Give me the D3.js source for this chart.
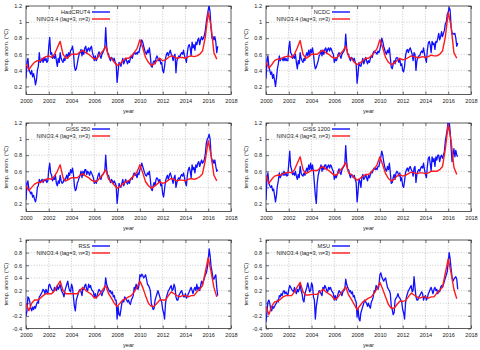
<!DOCTYPE html>
<html><head><meta charset="utf-8">
<script src="https://cdn.jsdelivr.net/npm/d3@7"></script>
<style>body{margin:0;background:#fff}svg{display:block}text{font-family:"Liberation Sans",Arial,sans-serif}</style>
</head><body><svg id="c" width="480" height="350"></svg>
<script>
// ---- data ----
const startYear = 2000;
const blueStepMonths = 1;   // blue series: monthly
const redStepMonths = 3;    // red series sampled every 3 months
const panelNames = ["HadCRUT4", "NCDC", "GISS 250", "GISS 1200", "RSS", "MSU"];
const redName = "NINO3.4 (lag=3, n=3)";
const xTicks = [2000, 2002, 2004, 2006, 2008, 2010, 2012, 2014, 2016, 2018];
const yTicksSurface = [0.2, 0.4, 0.6, 0.8, 1.0, 1.2];
const yTicksSat = [-0.4, -0.2, 0, 0.2, 0.4, 0.6, 0.8, 1.0];
const yDomainSurface = [0.1, 1.2];
const yDomainSat = [-0.4, 1.0];

const hadcrut4 = [
0.30,0.50,0.55,0.42,0.38,0.35,0.40,0.32,0.36,0.30,0.22,0.28,
0.40,0.45,0.62,0.50,0.52,0.55,0.50,0.56,0.52,0.55,0.50,0.52,
0.70,0.81,0.60,0.62,0.55,0.58,0.55,0.60,0.52,0.45,0.55,0.50,
0.62,0.55,0.52,0.50,0.55,0.52,0.58,0.60,0.55,0.62,0.58,0.65,
0.66,0.70,0.62,0.45,0.40,0.42,0.48,0.55,0.60,0.62,0.66,0.58,
0.65,0.60,0.68,0.70,0.62,0.66,0.68,0.64,0.68,0.70,0.62,0.58,
0.52,0.58,0.52,0.55,0.60,0.63,0.58,0.55,0.60,0.62,0.65,0.68,
0.93,0.70,0.62,0.60,0.55,0.52,0.56,0.55,0.52,0.55,0.50,0.48,
0.25,0.38,0.50,0.48,0.45,0.50,0.55,0.48,0.52,0.55,0.52,0.48,
0.52,0.50,0.55,0.58,0.55,0.60,0.62,0.60,0.62,0.60,0.63,0.62,
0.68,0.72,0.78,0.75,0.70,0.65,0.62,0.60,0.65,0.62,0.68,0.58,
0.45,0.44,0.50,0.52,0.48,0.55,0.58,0.55,0.52,0.55,0.48,0.50,
0.40,0.37,0.45,0.55,0.60,0.62,0.58,0.62,0.65,0.60,0.58,0.52,
0.58,0.60,0.37,0.52,0.55,0.58,0.56,0.60,0.62,0.60,0.65,0.58,
0.55,0.50,0.62,0.70,0.72,0.68,0.58,0.75,0.68,0.72,0.65,0.75,
0.72,0.78,0.80,0.72,0.78,0.82,0.78,0.80,0.84,0.90,1.00,1.08,
1.15,1.20,1.12,0.92,0.80,0.82,0.78,0.82,0.75,0.62,0.70];
const hadcrut4Nino = [
0.48,0.41,0.46,0.50, 0.52,0.52,0.55,0.57, 0.58,0.56,0.60,0.68, 0.76,0.60,0.55,0.57,
0.60,0.60,0.60,0.63, 0.65,0.62,0.60,0.57, 0.54,0.55,0.60,0.64, 0.70,0.57,0.55,0.50,
0.46,0.48,0.52,0.55, 0.55,0.58,0.62,0.67, 0.78,0.68,0.56,0.50, 0.46,0.48,0.52,0.55,
0.52,0.53,0.56,0.58, 0.57,0.55,0.56,0.56, 0.55,0.57,0.58,0.57, 0.58,0.60,0.64,0.82,
1.12,0.95,0.62,0.54];

const ncdc = [
0.30,0.52,0.58,0.45,0.40,0.35,0.38,0.30,0.35,0.28,0.20,0.30,
0.42,0.48,0.58,0.52,0.55,0.55,0.52,0.56,0.52,0.55,0.52,0.52,
0.68,0.76,0.62,0.60,0.55,0.58,0.55,0.60,0.50,0.42,0.52,0.48,
0.62,0.55,0.52,0.50,0.55,0.52,0.58,0.62,0.58,0.65,0.58,0.66,
0.62,0.68,0.60,0.48,0.42,0.44,0.48,0.52,0.58,0.60,0.65,0.58,
0.65,0.60,0.66,0.68,0.62,0.66,0.68,0.64,0.68,0.66,0.62,0.60,
0.50,0.55,0.52,0.55,0.60,0.62,0.58,0.55,0.60,0.62,0.64,0.66,
0.85,0.68,0.60,0.60,0.55,0.52,0.56,0.55,0.52,0.55,0.50,0.48,
0.24,0.36,0.50,0.46,0.45,0.50,0.55,0.48,0.52,0.56,0.52,0.48,
0.52,0.50,0.55,0.58,0.56,0.62,0.64,0.62,0.62,0.60,0.64,0.62,
0.66,0.72,0.80,0.76,0.70,0.66,0.62,0.60,0.65,0.62,0.68,0.56,
0.44,0.42,0.48,0.52,0.48,0.55,0.56,0.55,0.50,0.54,0.46,0.48,
0.40,0.38,0.45,0.58,0.64,0.66,0.62,0.66,0.68,0.64,0.60,0.52,
0.62,0.60,0.40,0.52,0.56,0.58,0.58,0.62,0.64,0.62,0.68,0.60,
0.55,0.50,0.65,0.74,0.76,0.72,0.62,0.76,0.72,0.74,0.66,0.76,
0.75,0.80,0.86,0.78,0.82,0.88,0.82,0.86,0.90,0.98,1.00,1.10,
1.12,1.18,1.15,0.95,0.85,0.86,0.85,0.86,0.80,0.70,0.74];
const ncdcNino = [
0.50,0.43,0.47,0.52, 0.54,0.54,0.56,0.57, 0.58,0.56,0.60,0.68, 0.77,0.60,0.55,0.57,
0.60,0.60,0.60,0.63, 0.65,0.62,0.60,0.57, 0.55,0.56,0.60,0.64, 0.70,0.57,0.55,0.50,
0.47,0.49,0.52,0.55, 0.55,0.58,0.62,0.67, 0.78,0.68,0.56,0.50, 0.47,0.49,0.52,0.55,
0.53,0.54,0.56,0.58, 0.57,0.56,0.56,0.57, 0.56,0.57,0.59,0.58, 0.58,0.60,0.64,0.82,
1.12,0.95,0.62,0.55];

const giss250 = [
0.24,0.45,0.48,0.38,0.35,0.32,0.34,0.28,0.30,0.25,0.22,0.28,
0.40,0.42,0.50,0.46,0.48,0.50,0.46,0.50,0.48,0.50,0.46,0.48,
0.62,0.70,0.58,0.55,0.48,0.52,0.50,0.55,0.45,0.42,0.48,0.45,
0.55,0.48,0.45,0.46,0.50,0.48,0.52,0.55,0.50,0.58,0.55,0.62,
0.58,0.64,0.56,0.42,0.36,0.38,0.45,0.48,0.52,0.55,0.60,0.52,
0.60,0.55,0.62,0.62,0.56,0.60,0.58,0.55,0.60,0.58,0.55,0.52,
0.45,0.48,0.45,0.50,0.55,0.58,0.52,0.50,0.55,0.56,0.58,0.60,
0.80,0.62,0.55,0.55,0.50,0.46,0.50,0.48,0.45,0.48,0.45,0.42,
0.20,0.32,0.45,0.42,0.40,0.45,0.50,0.42,0.46,0.50,0.46,0.44,
0.48,0.45,0.50,0.52,0.50,0.55,0.58,0.55,0.56,0.52,0.58,0.56,
0.62,0.66,0.70,0.66,0.62,0.58,0.55,0.54,0.58,0.56,0.60,0.50,
0.38,0.36,0.42,0.46,0.42,0.50,0.52,0.50,0.46,0.50,0.42,0.44,
0.32,0.28,0.38,0.48,0.52,0.55,0.50,0.55,0.58,0.54,0.50,0.45,
0.52,0.55,0.40,0.46,0.50,0.52,0.50,0.54,0.56,0.54,0.58,0.52,
0.46,0.42,0.55,0.62,0.65,0.60,0.52,0.68,0.62,0.65,0.58,0.68,
0.65,0.70,0.72,0.66,0.70,0.74,0.70,0.72,0.75,0.82,0.95,1.00,
1.02,1.06,1.00,0.80,0.72,0.74,0.70,0.74,0.66,0.60,0.62];
const giss250Nino = [
0.42,0.36,0.40,0.44, 0.46,0.46,0.48,0.50, 0.51,0.50,0.54,0.60, 0.68,0.52,0.48,0.50,
0.52,0.52,0.52,0.55, 0.57,0.54,0.52,0.49, 0.47,0.48,0.52,0.56, 0.62,0.50,0.47,0.43,
0.39,0.41,0.44,0.47, 0.48,0.51,0.55,0.59, 0.68,0.58,0.47,0.42, 0.39,0.41,0.44,0.47,
0.45,0.46,0.49,0.51, 0.50,0.48,0.49,0.49, 0.48,0.50,0.51,0.50, 0.51,0.53,0.57,0.74,
0.98,0.80,0.55,0.48];

const giss1200 = [
0.24,0.52,0.58,0.45,0.42,0.40,0.42,0.36,0.38,0.30,0.22,0.30,
0.42,0.48,0.58,0.52,0.55,0.58,0.55,0.60,0.55,0.58,0.54,0.55,
0.70,0.85,0.66,0.62,0.56,0.58,0.55,0.60,0.54,0.50,0.56,0.52,
0.66,0.58,0.55,0.54,0.58,0.55,0.60,0.64,0.60,0.68,0.62,0.70,
0.62,0.68,0.60,0.45,0.30,0.20,0.45,0.55,0.60,0.64,0.68,0.60,
0.66,0.62,0.68,0.68,0.62,0.66,0.68,0.64,0.68,0.66,0.62,0.60,
0.50,0.55,0.52,0.56,0.60,0.63,0.58,0.56,0.62,0.64,0.66,0.68,
0.92,0.72,0.62,0.62,0.56,0.52,0.56,0.55,0.52,0.55,0.50,0.46,
0.22,0.35,0.50,0.48,0.40,0.52,0.56,0.50,0.52,0.56,0.52,0.48,
0.55,0.52,0.56,0.60,0.58,0.62,0.64,0.62,0.64,0.62,0.66,0.66,
0.72,0.78,0.85,0.80,0.72,0.66,0.62,0.60,0.66,0.62,0.70,0.58,
0.45,0.46,0.52,0.56,0.50,0.58,0.60,0.58,0.54,0.58,0.48,0.52,
0.42,0.40,0.48,0.58,0.62,0.64,0.60,0.64,0.66,0.62,0.60,0.54,
0.64,0.66,0.46,0.56,0.60,0.62,0.60,0.64,0.66,0.64,0.70,0.62,
0.56,0.52,0.66,0.76,0.78,0.70,0.60,0.78,0.72,0.76,0.66,0.78,
0.74,0.80,0.80,0.72,0.78,0.80,0.76,0.80,0.85,0.98,1.05,1.12,
1.25,1.22,1.10,0.90,0.72,0.80,0.88,0.78,0.86,0.80,0.78];
const giss1200Nino = [
0.55,0.45,0.50,0.54, 0.55,0.55,0.57,0.58, 0.59,0.58,0.62,0.70, 0.78,0.62,0.57,0.59,
0.61,0.61,0.61,0.64, 0.66,0.63,0.61,0.58, 0.55,0.56,0.61,0.65, 0.71,0.58,0.56,0.52,
0.49,0.51,0.54,0.56, 0.56,0.59,0.63,0.68, 0.78,0.68,0.57,0.51, 0.48,0.50,0.54,0.56,
0.54,0.55,0.57,0.59, 0.58,0.57,0.58,0.58, 0.57,0.58,0.60,0.60, 0.60,0.62,0.66,0.88,
1.18,0.98,0.65,0.56];

const rss = [
-0.20,-0.12,0.10,0.08,0.02,-0.08,-0.12,-0.06,-0.10,-0.05,-0.08,-0.02,
0.02,0.00,0.10,0.12,0.15,0.18,0.22,0.20,0.15,0.22,0.18,0.15,
0.28,0.30,0.25,0.22,0.20,0.18,0.25,0.22,0.20,0.28,0.22,0.25,
0.30,0.22,0.18,0.15,0.10,0.20,0.25,0.30,0.35,0.25,0.20,0.18,
0.30,0.25,0.10,-0.05,-0.12,0.05,0.10,0.15,0.20,0.22,0.18,0.12,
0.25,0.22,0.28,0.30,0.22,0.20,0.30,0.25,0.28,0.22,0.20,0.18,
0.10,0.15,0.08,0.12,0.18,0.22,0.20,0.15,0.12,0.18,0.20,0.25,
0.40,0.30,0.25,0.22,0.18,0.20,0.15,0.18,0.10,0.12,0.05,0.05,
-0.25,-0.05,-0.18,-0.20,-0.10,0.00,0.05,0.02,0.10,0.08,0.05,0.02,
0.05,0.00,-0.02,0.05,0.08,0.12,0.25,0.22,0.30,0.25,0.22,0.28,
0.45,0.42,0.46,0.44,0.40,0.42,0.45,0.38,0.30,0.28,0.25,0.20,
0.00,-0.05,-0.10,-0.08,0.05,0.10,0.15,0.20,0.15,0.10,0.05,0.02,
-0.10,-0.15,-0.25,0.00,0.10,0.15,0.20,0.22,0.25,0.28,0.20,0.22,
0.30,0.25,0.10,0.05,0.05,0.12,0.15,0.18,0.20,0.15,0.10,0.10,
0.15,0.08,0.10,0.15,0.18,0.22,0.25,0.20,0.15,0.22,0.25,0.20,
0.30,0.22,0.25,0.20,0.28,0.35,0.30,0.35,0.40,0.45,0.48,0.55,
0.68,0.86,0.75,0.58,0.50,0.40,0.38,0.42,0.45,0.25,0.12];
const rssNino = [
0.00,-0.12,0.00,0.05, 0.05,0.08,0.12,0.15, 0.15,0.15,0.20,0.28, 0.35,0.20,0.15,0.15,
0.15,0.15,0.15,0.20, 0.25,0.20,0.17,0.14, 0.08,0.10,0.15,0.22, 0.28,0.15,0.08,0.00,
-0.05,0.00,0.05,0.07, 0.10,0.12,0.18,0.25, 0.35,0.25,0.12,0.00, -0.05,-0.05,0.00,0.05,
0.05,0.05,0.12,0.18, 0.15,0.12,0.10,0.12, 0.12,0.10,0.12,0.12, 0.18,0.22,0.28,0.50,
0.72,0.50,0.25,0.10];

const msu = [
-0.30,-0.15,0.02,0.05,0.00,-0.10,-0.12,-0.05,-0.08,-0.05,-0.02,0.00,
0.05,0.02,0.12,0.10,0.15,0.12,0.18,0.20,0.15,0.18,0.15,0.12,
0.22,0.28,0.25,0.22,0.20,0.18,0.25,0.20,0.15,0.22,0.18,0.22,
0.30,0.20,0.15,0.05,0.02,0.15,0.20,0.25,0.32,0.25,0.18,0.20,
0.32,0.28,0.10,0.05,-0.25,-0.05,0.05,0.15,0.20,0.18,0.15,0.12,
0.25,0.22,0.28,0.25,0.20,0.18,0.25,0.22,0.25,0.20,0.18,0.15,
0.05,0.12,0.05,0.10,0.15,0.20,0.18,0.15,0.12,0.18,0.20,0.22,
0.38,0.30,0.25,0.22,0.18,0.20,0.15,0.18,0.10,0.12,0.05,0.02,
-0.22,-0.08,-0.25,-0.28,-0.15,-0.10,-0.05,0.00,0.05,0.02,0.00,-0.05,
0.00,-0.05,-0.08,0.02,0.05,0.10,0.20,0.18,0.28,0.25,0.22,0.28,
0.45,0.48,0.42,0.38,0.35,0.38,0.40,0.32,0.25,0.22,0.20,0.15,
-0.05,-0.10,-0.18,-0.15,0.05,0.08,0.10,0.15,0.10,0.08,0.05,0.02,
-0.10,-0.15,-0.25,0.00,0.10,0.15,0.20,0.22,0.25,0.28,0.18,0.20,
0.42,0.25,0.10,0.05,0.05,0.10,0.12,0.15,0.18,0.15,0.05,0.10,
0.12,0.05,0.08,0.15,0.18,0.22,0.25,0.20,0.15,0.22,0.25,0.20,
0.22,0.15,0.20,0.18,0.25,0.28,0.25,0.30,0.35,0.40,0.45,0.50,
0.65,0.80,0.70,0.55,0.42,0.35,0.38,0.40,0.42,0.38,0.22];
const msuNino = [
-0.05,-0.18,-0.05,0.02, 0.03,0.06,0.10,0.12, 0.12,0.12,0.18,0.26, 0.33,0.18,0.13,0.13,
0.14,0.14,0.14,0.18, 0.22,0.18,0.15,0.12, 0.06,0.08,0.14,0.20, 0.26,0.13,0.06,-0.02,
-0.10,-0.04,0.02,0.05, 0.08,0.10,0.16,0.23, 0.33,0.22,0.10,-0.02, -0.08,-0.08,-0.02,0.03,
0.03,0.04,0.10,0.16, 0.13,0.10,0.08,0.10, 0.10,0.08,0.10,0.10, 0.16,0.20,0.26,0.48,
0.70,0.48,0.22,0.07];

// ---- drawing ----
const panels = [
  {name: panelNames[0], blue: hadcrut4, red: hadcrut4Nino, sat: false},
  {name: panelNames[1], blue: ncdc, red: ncdcNino, sat: false},
  {name: panelNames[2], blue: giss250, red: giss250Nino, sat: false},
  {name: panelNames[3], blue: giss1200, red: giss1200Nino, sat: false},
  {name: panelNames[4], blue: rss, red: rssNino, sat: true},
  {name: panelNames[5], blue: msu, red: msuNino, sat: true}
];

const svg = d3.select("#c");
const W = 240, H = 117;
const m = {left: 26, right: 9, top: 6, bottom: 22.5};
const iw = W - m.left - m.right, ih = H - m.top - m.bottom;
const BLUE = "#1010ff", RED = "#ff1a1a";
const fmt = v => (Math.round(v * 10) / 10).toString();

panels.forEach((p, k) => {
  const col = k % 2, row = Math.floor(k / 2);
  const g = svg.append("g").attr("transform", `translate(${col * W},${row * H})`);
  const x = d3.scaleLinear().domain([xTicks[0], xTicks[xTicks.length - 1]]).range([m.left, m.left + iw]);
  const yDom = p.sat ? yDomainSat : yDomainSurface;
  const yT = p.sat ? yTicksSat : yTicksSurface;
  const y = d3.scaleLinear().domain(yDom).range([m.top + ih, m.top]);

  // grid
  const grid = g.append("g").attr("stroke", "#a8a8a8").attr("stroke-width", 0.6).attr("stroke-dasharray", "1,1.6");
  grid.selectAll(".gx").data(xTicks.slice(1, -1)).join("line")
    .attr("x1", d => x(d)).attr("x2", d => x(d)).attr("y1", m.top).attr("y2", m.top + ih);
  grid.selectAll(".gy").data(yT.filter(v => v > yDom[0] && v < yDom[1])).join("line")
    .attr("x1", m.left).attr("x2", m.left + iw).attr("y1", d => y(d)).attr("y2", d => y(d));

  // axes
  const ax = g.append("g").attr("transform", `translate(0,${m.top + ih})`)
    .call(d3.axisBottom(x).tickValues(xTicks).tickFormat(d3.format("d")).tickSize(-3).tickPadding(5));
  const axTop = g.append("g").attr("transform", `translate(0,${m.top})`)
    .call(d3.axisTop(x).tickValues(xTicks).tickFormat("").tickSize(-3));
  const ay = g.append("g").attr("transform", `translate(${m.left},0)`)
    .call(d3.axisLeft(y).tickValues(yT).tickFormat(fmt).tickSize(-3).tickPadding(4));
  const ayR = g.append("g").attr("transform", `translate(${m.left + iw},0)`)
    .call(d3.axisRight(y).tickValues(yT).tickFormat("").tickSize(-3));
  [ax, axTop, ay, ayR].forEach(a => {
    a.select(".domain").remove();
    a.selectAll("line").attr("stroke", "#333").attr("stroke-width", 0.7);
    a.selectAll("text").attr("fill", "#222").style("font-size", "5.6px").attr("font-family", "Liberation Sans, Arial, sans-serif");
  });
  g.append("rect").attr("x", m.left).attr("y", m.top).attr("width", iw).attr("height", ih)
    .attr("fill", "none").attr("stroke", "#333").attr("stroke-width", 0.8);

  // axis titles
  g.append("text").attr("x", m.left + iw / 2).attr("y", H - 4.5).attr("text-anchor", "middle")
    .style("font-size", "5.6px").attr("fill", "#222").text("year");
  g.append("text").attr("transform", `translate(8,${m.top + ih / 2}) rotate(-90)`).attr("text-anchor", "middle")
    .style("font-size", "5.6px").attr("fill", "#222").text("temp. anom. (°C)");

  // series
  const clipId = "clip" + k;
  g.append("clipPath").attr("id", clipId).append("rect")
    .attr("x", m.left).attr("y", m.top).attr("width", iw).attr("height", ih);
  const lineB = d3.line().x((d, i) => x(startYear + i * blueStepMonths / 12)).y(d => y(d));
  const lineR = d3.line().x((d, i) => x(startYear + i * redStepMonths / 12)).y(d => y(d));
  const series = g.append("g").attr("clip-path", `url(#${clipId})`);
  series.append("path").datum(p.blue).attr("d", lineB).attr("fill", "none")
    .attr("stroke", BLUE).attr("stroke-width", 1.3).attr("stroke-linejoin", "round");
  series.append("path").datum(p.red).attr("d", lineR).attr("fill", "none")
    .attr("stroke", RED).attr("stroke-width", 1.4).attr("stroke-linejoin", "round");

  // legend
  const leg = g.append("g");
  [[p.name, BLUE], [redName, RED]].forEach(([t, c], j) => {
    const ly = 12 + j * 7;
    leg.append("text").attr("x", 90).attr("y", ly + 2).attr("text-anchor", "end")
      .style("font-size", "5.6px").attr("fill", "#222").text(t);
    leg.append("line").attr("x1", 92).attr("x2", 110).attr("y1", ly).attr("y2", ly)
      .attr("stroke", c).attr("stroke-width", 1.4);
  });
});
</script>
</body></html>
